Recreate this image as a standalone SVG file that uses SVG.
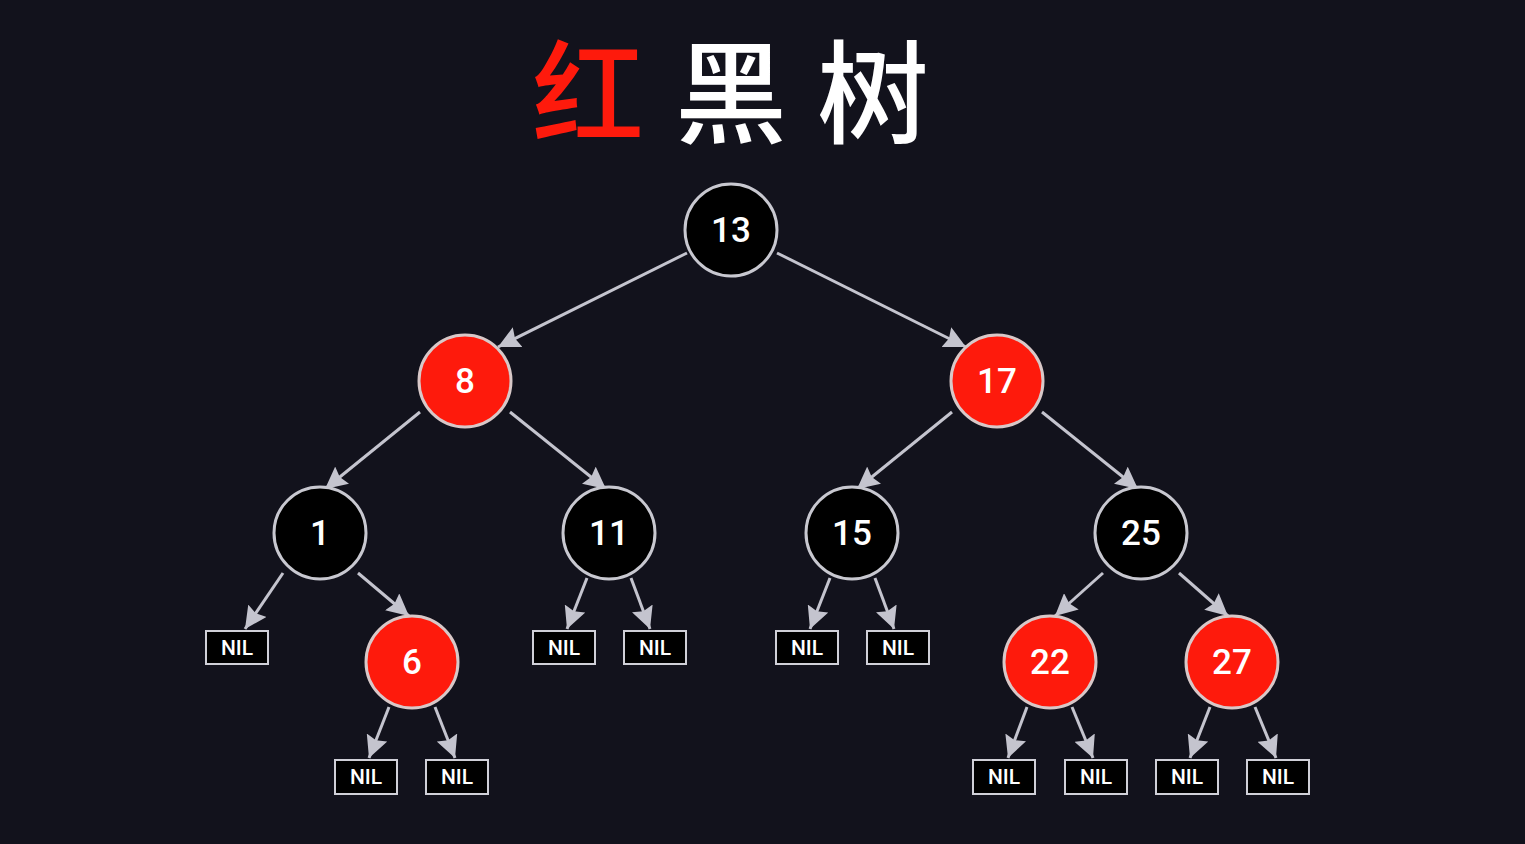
<svg xmlns="http://www.w3.org/2000/svg" width="1525" height="844" viewBox="0 0 1525 844">
<defs>
<marker id="ah" markerUnits="userSpaceOnUse" markerWidth="24" markerHeight="22" refX="22" refY="11" orient="auto" viewBox="0 0 24 22">
<path d="M0,0 L22,11 L0,22 L3,11 z" fill="#c4c4ce"/>
</marker>
<style>
.e{stroke:#c4c4ce;stroke-width:3;fill:none;marker-end:url(#ah)}
.b{fill:#000;stroke:#c8c8d0;stroke-width:3}
.r{fill:#fe1a0c;stroke:#d8c8c8;stroke-width:3}
.n{fill:#fff;font-family:Roboto,"Liberation Sans",sans-serif;font-size:35px;font-weight:500;text-anchor:middle;dominant-baseline:central}
.nb{fill:#000;stroke:#d0d0d8;stroke-width:2}
.nt{fill:#fff;font-family:Roboto,"Liberation Sans",sans-serif;font-size:21px;font-weight:500;text-anchor:middle;dominant-baseline:central}
.t{font-family:"Noto Sans CJK SC",sans-serif;font-size:112px;font-weight:500;text-anchor:middle}
</style>
</defs>
<rect width="1525" height="844" fill="#12121c"/>
<g id="title">
<text class="t" x="588" y="135" fill="#fe1a0c">红</text>
<text class="t" x="731" y="135" fill="#ffffff">黑</text>
<text class="t" x="873" y="135" fill="#ffffff">树</text>
</g>
<g id="connectors">
<line class="e" x1="687" y1="253" x2="498" y2="347"/>
<line class="e" x1="777" y1="253" x2="966" y2="347"/>
<line class="e" x1="420" y1="412" x2="325" y2="489"/>
<line class="e" x1="510" y1="412" x2="606" y2="489"/>
<line class="e" x1="952" y1="412" x2="857" y2="489"/>
<line class="e" x1="1042" y1="412" x2="1138" y2="489"/>
<line class="e" x1="283" y1="573" x2="245" y2="629"/>
<line class="e" x1="358" y1="573" x2="409" y2="616"/>
<line class="e" x1="587" y1="578" x2="567" y2="629"/>
<line class="e" x1="631" y1="578" x2="650" y2="629"/>
<line class="e" x1="830" y1="578" x2="810" y2="629"/>
<line class="e" x1="875" y1="578" x2="894" y2="629"/>
<line class="e" x1="1103" y1="573" x2="1055" y2="616"/>
<line class="e" x1="1179" y1="573" x2="1228" y2="616"/>
<line class="e" x1="389" y1="707" x2="369" y2="758"/>
<line class="e" x1="435" y1="707" x2="455" y2="758"/>
<line class="e" x1="1027" y1="707" x2="1008" y2="758"/>
<line class="e" x1="1072" y1="707" x2="1093" y2="758"/>
<line class="e" x1="1210" y1="707" x2="1190" y2="758"/>
<line class="e" x1="1255" y1="707" x2="1276" y2="758"/>
</g>
<g id="n13"><circle class="b" cx="731" cy="230" r="46"/><text class="n" x="731" y="230">13</text></g>
<g id="n8"><circle class="r" cx="465" cy="381" r="46"/><text class="n" x="465" y="381">8</text></g>
<g id="n17"><circle class="r" cx="997" cy="381" r="46"/><text class="n" x="997" y="381">17</text></g>
<g id="n1"><circle class="b" cx="320" cy="533" r="46"/><text class="n" x="320" y="533">1</text></g>
<g id="n11"><circle class="b" cx="609" cy="533" r="46"/><text class="n" x="609" y="533">11</text></g>
<g id="n15"><circle class="b" cx="852" cy="533" r="46"/><text class="n" x="852" y="533">15</text></g>
<g id="n25"><circle class="b" cx="1141" cy="533" r="46"/><text class="n" x="1141" y="533">25</text></g>
<g id="n6"><circle class="r" cx="412" cy="662" r="46"/><text class="n" x="412" y="662">6</text></g>
<g id="n22"><circle class="r" cx="1050" cy="662" r="46"/><text class="n" x="1050" y="662">22</text></g>
<g id="n27"><circle class="r" cx="1232" cy="662" r="46"/><text class="n" x="1232" y="662">27</text></g>
<g id="nil1a"><rect class="nb" x="206" y="631" width="62" height="33"/><text class="nt" x="237" y="648">NIL</text></g>
<g id="nil11a"><rect class="nb" x="533" y="631" width="62" height="33"/><text class="nt" x="564" y="648">NIL</text></g>
<g id="nil11b"><rect class="nb" x="624" y="631" width="62" height="33"/><text class="nt" x="655" y="648">NIL</text></g>
<g id="nil15a"><rect class="nb" x="776" y="631" width="62" height="33"/><text class="nt" x="807" y="648">NIL</text></g>
<g id="nil15b"><rect class="nb" x="867" y="631" width="62" height="33"/><text class="nt" x="898" y="648">NIL</text></g>
<g id="nil6a"><rect class="nb" x="335" y="760" width="62" height="34"/><text class="nt" x="366" y="777">NIL</text></g>
<g id="nil6b"><rect class="nb" x="426" y="760" width="62" height="34"/><text class="nt" x="457" y="777">NIL</text></g>
<g id="nil22a"><rect class="nb" x="973" y="760" width="62" height="34"/><text class="nt" x="1004" y="777">NIL</text></g>
<g id="nil22b"><rect class="nb" x="1065" y="760" width="62" height="34"/><text class="nt" x="1096" y="777">NIL</text></g>
<g id="nil27a"><rect class="nb" x="1156" y="760" width="62" height="34"/><text class="nt" x="1187" y="777">NIL</text></g>
<g id="nil27b"><rect class="nb" x="1247" y="760" width="62" height="34"/><text class="nt" x="1278" y="777">NIL</text></g>
</svg>
